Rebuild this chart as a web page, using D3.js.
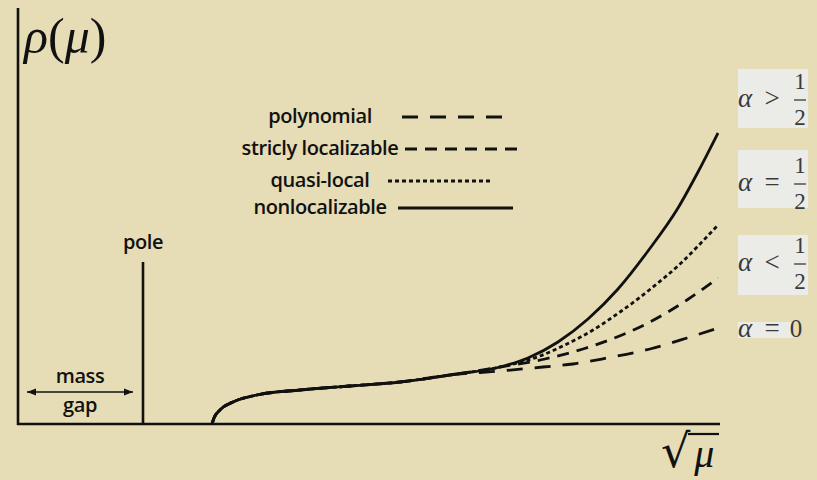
<!DOCTYPE html>
<html>
<head>
<meta charset="utf-8">
<script src="https://cdn.jsdelivr.net/npm/d3@7/dist/d3.min.js"></script>
<style>
  html, body { margin: 0; padding: 0; background: #e6dcb5; }
  svg { display: block; }
</style>
</head>
<body>
<svg id="chart" width="817" height="480"></svg>
<script>
// ---- data (conceptual units) ----
const commonX = [1.94, 1.96, 2.02, 2.15, 2.39, 2.82, 3.32, 3.82, 4.32];
const commonY = [0.00, 0.06, 0.14, 0.22, 0.29, 0.34, 0.38, 0.42, 0.49];

const nonlocX = [4.82, 5.10, 5.40, 5.70, 6.00, 6.30, 6.60, 6.80, 7.00];
const nonlocY = [0.57, 0.66, 0.82, 1.05, 1.35, 1.73, 2.16, 2.52, 2.91];

const quasiX = [4.82, 5.22, 5.49, 5.75, 6.02, 6.35, 6.62, 6.82, 7.00];
const quasiY = [0.57, 0.68, 0.80, 0.94, 1.12, 1.37, 1.60, 1.80, 1.99];

const strictX = [4.82, 5.27, 5.65, 5.99, 6.32, 6.69, 7.00];
const strictY = [0.57, 0.65, 0.75, 0.87, 1.02, 1.24, 1.46];

const polyX = [4.82, 5.25, 5.55, 5.89, 6.32, 6.69, 7.00];
const polyY = [0.53, 0.57, 0.60, 0.66, 0.75, 0.86, 0.96];

const poleX = 1.25;
const poleHeight = 1.62;
const massGap = [0.09, 1.15];

const seriesNames = ["polynomial", "stricly localizable", "quasi-local", "nonlocalizable"];
const seriesDash = ["16,12", "12,8", "4,3", null];
const rightLabels = [
  {sym: ">", frac: true},
  {sym: "=", frac: true},
  {sym: "<", frac: true},
  {sym: "=", frac: false, val: "0"}
];

// ---- layout ----
const svg = d3.select("#chart");
const x = d3.scaleLinear().domain([0, 7]).range([18, 718]);
const y = d3.scaleLinear().domain([0, 4.16]).range([424, 8]);

function pts(xs, ys) { return xs.map((v, i) => [v, ys[i]]); }
const common = pts(commonX, commonY);
const series = [
  common.concat(pts(polyX, polyY)),
  common.concat(pts(strictX, strictY)),
  common.concat(pts(quasiX, quasiY)),
  common.concat(pts(nonlocX, nonlocY))
];

const line = d3.line().x(d => x(d[0])).y(d => y(d[1])).curve(d3.curveMonotoneX);

const ink = "#111";
// axes
svg.append("line").attr("x1", x(0)).attr("x2", x(0)).attr("y1", y(4.16)).attr("y2", y(0) + 1)
  .attr("stroke", ink).attr("stroke-width", 2.6);
svg.append("line").attr("x1", x(0) - 1).attr("x2", x(7) + 2).attr("y1", y(0)).attr("y2", y(0))
  .attr("stroke", ink).attr("stroke-width", 2.6);

// pole
svg.append("line").attr("x1", x(poleX)).attr("x2", x(poleX)).attr("y1", y(poleHeight)).attr("y2", y(0))
  .attr("stroke", ink).attr("stroke-width", 2.6);
const font = "'Open Sans', Lato, sans-serif";
svg.append("text").attr("x", x(poleX)).attr("y", y(poleHeight) - 13)
  .attr("text-anchor", "middle").attr("font-family", font).attr("font-size", 20).attr("font-weight", 600)
  .attr("fill", ink).attr("letter-spacing", -0.4).text("pole");

// mass gap arrow
const defs = svg.append("defs");
defs.append("marker").attr("id", "arre").attr("viewBox", "0 0 10 10")
  .attr("refX", 10).attr("refY", 5).attr("markerWidth", 9).attr("markerHeight", 9)
  .attr("markerUnits", "userSpaceOnUse").attr("orient", "auto-start-reverse")
  .append("path").attr("d", "M0,1 L10,5 L0,9 z").attr("fill", ink);
const gapY = y(0.32);
const gapMid = (x(massGap[0]) + x(massGap[1])) / 2;
svg.append("line").attr("x1", x(massGap[0])).attr("x2", x(massGap[1])).attr("y1", gapY).attr("y2", gapY)
  .attr("stroke", ink).attr("stroke-width", 1.3)
  .attr("marker-start", "url(#arre)").attr("marker-end", "url(#arre)");
svg.append("text").attr("x", gapMid).attr("y", gapY - 9)
  .attr("text-anchor", "middle").attr("font-family", font).attr("font-size", 20).attr("font-weight", 600)
  .attr("letter-spacing", -0.4).attr("fill", ink).text("mass");
svg.append("text").attr("x", gapMid).attr("y", gapY + 20)
  .attr("text-anchor", "middle").attr("font-family", font).attr("font-size", 20).attr("font-weight", 600)
  .attr("letter-spacing", -0.4).attr("fill", ink).text("gap");

// curves (dashed first, solid last)
series.forEach((s, i) => {
  svg.append("path").attr("d", line(s)).attr("fill", "none")
    .attr("stroke", ink).attr("stroke-width", 2.8)
    .attr("stroke-dasharray", seriesDash[i])
    .attr("stroke-linecap", "butt");
});

// legend
const legY = [116, 148, 180, 207];
const legLine = [[402, 503], [405, 517], [388, 493], [398, 513]];
seriesNames.forEach((n, i) => {
  svg.append("text").attr("x", 320).attr("y", legY[i] + 7).attr("text-anchor", "middle")
    .attr("font-family", font).attr("font-size", 20).attr("font-weight", 600).attr("fill", ink)
    .attr("letter-spacing", -0.4).text(n);
  svg.append("line").attr("x1", legLine[i][0]).attr("x2", legLine[i][1])
    .attr("y1", legY[i] + 1).attr("y2", legY[i] + 1)
    .attr("stroke", ink).attr("stroke-width", 2.8).attr("stroke-dasharray", seriesDash[i]);
});

// axis labels
const mserif = "'Liberation Serif', 'DejaVu Serif', serif";
svg.append("text").attr("x", 24).attr("y", 53).attr("font-family", mserif).attr("font-size", 50)
  .attr("fill", ink)
  .html('<tspan font-style="italic">ρ</tspan>(<tspan font-style="italic">μ</tspan>)');

// sqrt(mu) as one text element
const sq = svg.append("text").attr("x", 661).attr("y", 467).attr("fill", ink);
sq.append("tspan").attr("font-family", "'DejaVu Sans', sans-serif").attr("font-size", 46).text("√");
sq.append("tspan").attr("dx", 4).attr("font-family", mserif).attr("font-size", 40)
  .attr("font-style", "italic").text("μ");
svg.append("line").attr("x1", 688).attr("x2", 719).attr("y1", 434).attr("y2", 434)
  .attr("stroke", ink).attr("stroke-width", 2.2);

// right labels
const boxes = [[738, 69, 70, 59], [738, 150, 70, 58], [738, 235, 70, 60], [738, 322, 55, 16]];
const axisY = [100, 184, 264, 330];
rightLabels.forEach((d, i) => {
  const b = boxes[i];
  svg.append("rect").attr("x", b[0]).attr("y", b[1]).attr("width", b[2]).attr("height", b[3]).attr("fill", "#ebebe8");
  const g = svg.append("g").attr("font-family", mserif).attr("fill", "#3a3a3a");
  const base = axisY[i] + 7;
  g.append("text").attr("x", 738).attr("y", base).attr("font-size", 27).attr("font-style", "italic").text("α");
  g.append("text").attr("x", 772).attr("y", base).attr("font-size", 27).attr("text-anchor", "middle").text(d.sym);
  if (d.frac) {
    g.append("text").attr("x", 800).attr("y", axisY[i] - 11).attr("font-size", 23).attr("text-anchor", "middle").text("1");
    g.append("line").attr("x1", 794).attr("x2", 806).attr("y1", axisY[i]).attr("y2", axisY[i])
      .attr("stroke", "#3a3a3a").attr("stroke-width", 1.3);
    g.append("text").attr("x", 800).attr("y", axisY[i] + 25).attr("font-size", 23).attr("text-anchor", "middle").text("2");
  } else {
    g.append("text").attr("x", 796).attr("y", base).attr("font-size", 25).attr("text-anchor", "middle").text(d.val);
  }
});
</script>
</body>
</html>
